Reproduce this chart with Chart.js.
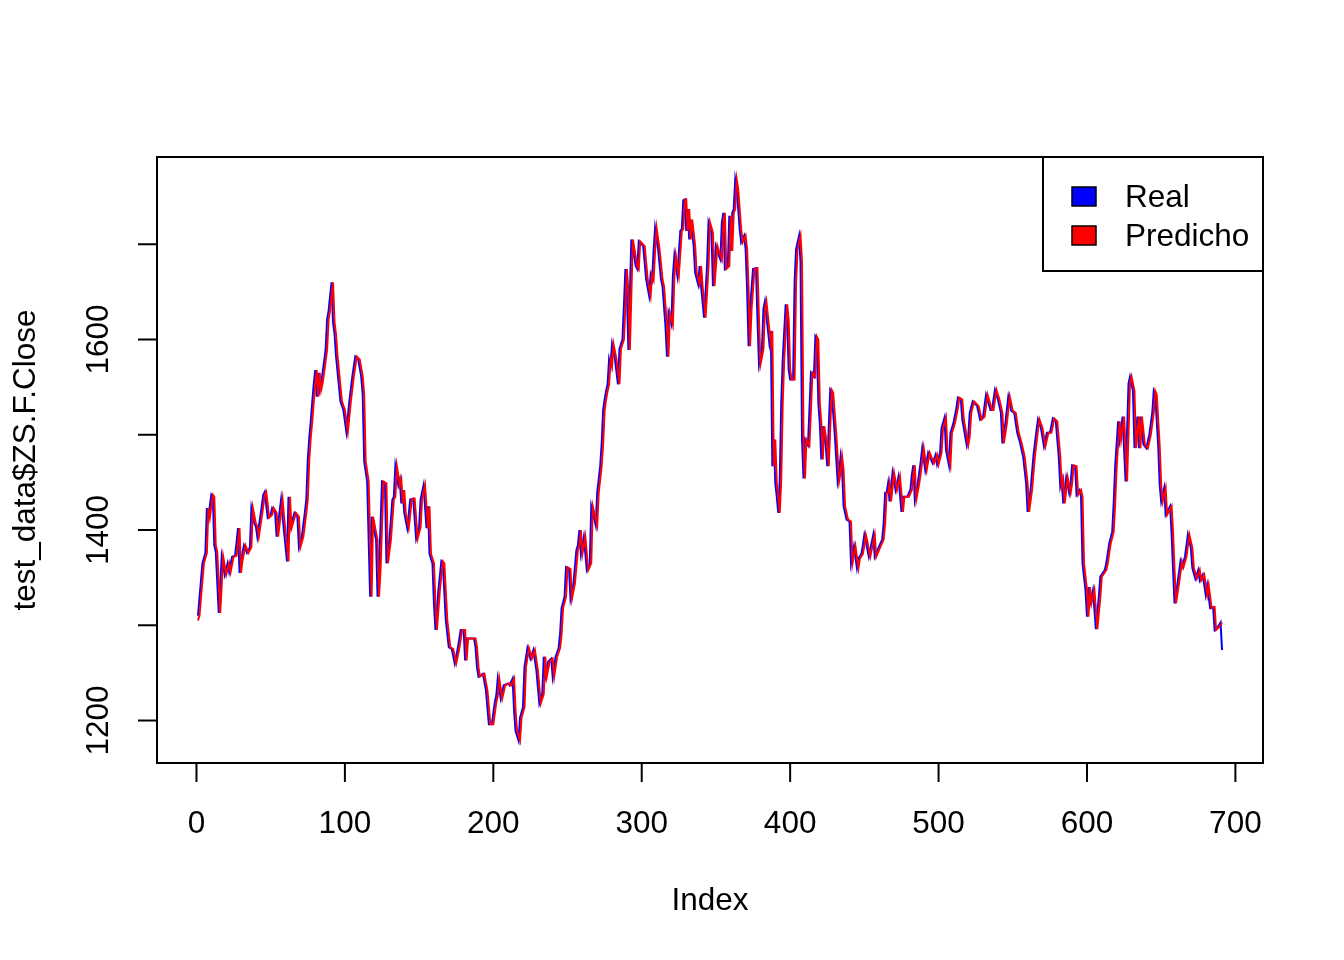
<!DOCTYPE html>
<html>
<head>
<meta charset="utf-8">
<script src="https://cdn.jsdelivr.net/npm/chart.js@4.4.0/dist/chart.umd.min.js"></script>
<style>
  html, body { margin: 0; padding: 0; background: #fff; }
  #wrap { width: 1344px; height: 960px; }
</style>
</head>
<body>
<div id="wrap"><canvas id="chart" width="1344" height="960"></canvas></div>
<script>
// [index, close]
const real = [[1,1310],[4,1365],[6,1376],[7,1423],[8,1413],[10,1437],[11,1435],[12,1384],[13,1377],[15,1313],[17,1372],[19,1353],[21,1365],[22,1356],[24,1372],[26,1373],[27,1387],[28,1402],[29,1355],[30,1368],[32,1384],[34,1376],[36,1382],[37,1423],[39,1407],[40,1404],[41,1393],[43,1414],[44,1425],[45,1437],[46,1440],[48,1413],[50,1416],[51,1423],[53,1418],[54,1393],[57,1432],[58,1414],[61,1367],[62,1435],[63,1402],[66,1418],[68,1414],[69,1382],[71,1393],[73,1418],[74,1432],[75,1474],[76,1497],[77,1514],[78,1534],[79,1553],[80,1568],[81,1540],[82,1565],[83,1547],[84,1554],[86,1577],[87,1589],[88,1621],[89,1630],[91,1660],[92,1618],[93,1606],[94,1583],[97,1535],[99,1526],[101,1503],[103,1535],[105,1561],[107,1582],[109,1579],[111,1561],[112,1542],[113,1472],[115,1451],[117,1330],[118,1414],[120,1397],[121,1390],[122,1330],[123,1358],[125,1451],[127,1449],[128,1365],[130,1390],[132,1432],[133,1435],[134,1467],[136,1447],[137,1453],[138,1428],[139,1442],[140,1418],[142,1402],[143,1416],[144,1432],[146,1433],[148,1391],[150,1403],[151,1432],[153,1447],[155,1402],[156,1425],[157,1375],[159,1365],[160,1323],[161,1295],[163,1337],[165,1367],[166,1365],[168,1305],[170,1277],[172,1275],[174,1260],[176,1275],[178,1295],[180,1295],[181,1263],[182,1286],[187,1286],[188,1277],[189,1256],[190,1246],[193,1249],[195,1232],[197,1196],[199,1196],[201,1219],[202,1226],[203,1244],[205,1223],[207,1237],[210,1239],[211,1237],[213,1244],[214,1210],[215,1189],[217,1179],[218,1203],[220,1214],[221,1256],[223,1276],[225,1265],[227,1274],[229,1253],[231,1218],[233,1228],[234,1267],[235,1246],[237,1262],[239,1265],[240,1246],[242,1267],[244,1276],[245,1291],[246,1318],[248,1330],[249,1361],[251,1359],[252,1328],[254,1344],[256,1379],[257,1384],[258,1400],[259,1375],[261,1393],[263,1358],[265,1365],[266,1425],[269,1405],[270,1439],[272,1467],[273,1490],[274,1526],[275,1537],[276,1546],[277,1553],[278,1579],[279,1572],[280,1595],[282,1579],[284,1553],[285,1590],[287,1600],[288,1635],[289,1674],[290,1651],[291,1589],[293,1705],[296,1677],[297,1674],[298,1703],[301,1698],[303,1663],[305,1646],[306,1668],[307,1663],[308,1693],[309,1717],[311,1695],[313,1663],[314,1656],[316,1614],[317,1582],[318,1628],[320,1616],[321,1667],[322,1688],[323,1677],[324,1667],[326,1714],[327,1716],[328,1746],[329,1747],[330,1714],[331,1737],[332,1705],[333,1726],[335,1698],[336,1670],[338,1658],[339,1677],[340,1656],[342,1623],[343,1649],[344,1677],[345,1723],[347,1712],[348,1656],[349,1677],[350,1698],[352,1688],[353,1684],[354,1723],[355,1733],[356,1674],[358,1677],[359,1730],[360,1693],[361,1733],[362,1737],[363,1768],[364,1758],[366,1716],[367,1702],[369,1709],[370,1695],[371,1653],[372,1593],[373,1632],[375,1674],[377,1675],[378,1621],[379,1574],[381,1590],[382,1632],[383,1640],[385,1610],[386,1596],[387,1609],[388,1467],[389,1495],[390,1449],[391,1435],[392,1418],[393,1453],[394,1533],[395,1579],[397,1637],[398,1621],[399,1568],[400,1558],[402,1558],[403,1660],[404,1695],[406,1709],[407,1681],[408,1495],[409,1454],[410,1495],[412,1489],[413,1526],[414,1565],[416,1561],[417,1603],[418,1600],[419,1533],[420,1512],[421,1474],[422,1509],[424,1488],[425,1467],[427,1547],[428,1544],[430,1502],[431,1477],[432,1451],[433,1460],[434,1477],[435,1463],[436,1425],[438,1411],[440,1409],[441,1365],[443,1383],[445,1360],[446,1370],[448,1375],[449,1384],[450,1395],[451,1388],[453,1372],[456,1395],[457,1372],[460,1383],[462,1390],[463,1407],[464,1439],[465,1439],[466,1449],[467,1430],[469,1460],[471,1442],[473,1456],[475,1419],[476,1435],[479,1435],[481,1442],[482,1458],[483,1468],[484,1432],[486,1449],[488,1472],[489,1486],[491,1463],[493,1481],[496,1470],[498,1479],[499,1469],[501,1481],[502,1507],[504,1518],[505,1484],[507,1468],[508,1502],[510,1512],[512,1528],[513,1539],[515,1537],[516,1516],[519,1489],[520,1498],[521,1523],[523,1535],[526,1530],[528,1516],[530,1519],[532,1542],[535,1526],[536,1526],[538,1547],[540,1537],[542,1523],[543,1491],[545,1512],[547,1540],[549,1525],[551,1523],[553,1502],[555,1491],[556,1484],[557,1477],[559,1449],[560,1419],[562,1442],[564,1479],[566,1505],[567,1516],[569,1507],[571,1488],[573,1502],[575,1502],[577,1517],[579,1514],[580,1495],[581,1477],[582,1446],[583,1453],[584,1428],[586,1455],[588,1439],[589,1449],[590,1468],[592,1467],[593,1437],[595,1442],[596,1435],[597,1365],[599,1337],[600,1309],[601,1340],[602,1323],[604,1337],[606,1296],[608,1330],[609,1351],[612,1358],[613,1365],[615,1386],[617,1398],[618,1428],[619,1467],[621,1514],[622,1495],[624,1519],[626,1451],[628,1554],[629,1561],[631,1546],[632,1486],[634,1519],[635,1486],[636,1519],[638,1490],[640,1486],[642,1500],[644,1523],[645,1546],[646,1542],[648,1488],[649,1447],[650,1430],[652,1444],[653,1416],[656,1425],[657,1397],[658,1358],[659,1323],[661,1344],[663,1367],[664,1361],[666,1372],[668,1395],[670,1381],[671,1360],[673,1349],[675,1358],[676,1347],[678,1353],[680,1332],[681,1342],[683,1318],[685,1319],[686,1295],[688,1298],[690,1303],[691,1274]];

const predicho = [[1,1305],[2,1310],[5,1365],[7,1376],[8,1423],[9,1413],[11,1437],[12,1435],[13,1384],[14,1377],[16,1313],[18,1372],[20,1353],[22,1365],[23,1356],[25,1372],[27,1373],[28,1387],[29,1402],[30,1355],[31,1368],[33,1384],[35,1376],[37,1382],[38,1423],[40,1407],[41,1404],[42,1393],[44,1414],[45,1425],[46,1437],[47,1440],[49,1413],[51,1416],[52,1423],[54,1418],[55,1393],[58,1432],[59,1414],[62,1367],[63,1435],[64,1402],[67,1418],[69,1414],[70,1382],[72,1393],[74,1418],[75,1432],[76,1474],[77,1497],[78,1514],[79,1534],[80,1553],[81,1568],[82,1540],[83,1565],[84,1547],[85,1554],[87,1577],[88,1589],[89,1621],[90,1630],[92,1660],[93,1618],[94,1606],[95,1583],[98,1535],[100,1526],[102,1503],[104,1535],[106,1561],[108,1582],[110,1579],[112,1561],[113,1542],[114,1472],[116,1451],[118,1330],[119,1414],[121,1397],[122,1390],[123,1330],[124,1358],[126,1451],[128,1449],[129,1365],[131,1390],[133,1432],[134,1435],[135,1467],[137,1447],[138,1453],[139,1428],[140,1442],[141,1418],[143,1402],[144,1416],[145,1432],[147,1433],[149,1391],[151,1403],[152,1432],[154,1447],[156,1402],[157,1425],[158,1375],[160,1365],[161,1323],[162,1295],[164,1337],[166,1367],[167,1365],[169,1305],[171,1277],[173,1275],[175,1260],[177,1275],[179,1295],[181,1295],[182,1263],[183,1286],[188,1286],[189,1277],[190,1256],[191,1246],[194,1249],[196,1232],[198,1196],[200,1196],[202,1219],[203,1226],[204,1244],[206,1223],[208,1237],[211,1239],[212,1237],[214,1244],[215,1210],[216,1189],[218,1179],[219,1203],[221,1214],[222,1256],[224,1276],[226,1265],[228,1274],[230,1253],[232,1218],[234,1228],[235,1267],[236,1246],[238,1262],[240,1265],[241,1246],[243,1267],[245,1276],[246,1291],[247,1318],[249,1330],[250,1361],[252,1359],[253,1328],[255,1344],[257,1379],[258,1384],[259,1400],[260,1375],[262,1393],[264,1358],[266,1365],[267,1425],[270,1405],[271,1439],[273,1467],[274,1490],[275,1526],[276,1537],[277,1546],[278,1553],[279,1579],[280,1572],[281,1595],[283,1579],[285,1553],[286,1590],[288,1600],[289,1635],[290,1674],[291,1651],[292,1589],[294,1705],[297,1677],[298,1674],[299,1703],[302,1698],[304,1663],[306,1646],[307,1668],[308,1663],[309,1693],[310,1717],[312,1695],[314,1663],[315,1656],[317,1614],[318,1582],[319,1628],[321,1616],[322,1667],[323,1688],[324,1677],[325,1667],[327,1714],[328,1716],[329,1746],[330,1747],[331,1714],[332,1737],[333,1705],[334,1726],[336,1698],[337,1670],[339,1658],[340,1677],[341,1656],[343,1623],[344,1649],[345,1677],[346,1723],[348,1712],[349,1656],[350,1677],[351,1698],[353,1688],[354,1684],[355,1723],[356,1733],[357,1674],[359,1677],[360,1730],[361,1693],[362,1733],[363,1737],[364,1768],[365,1758],[367,1716],[368,1702],[370,1709],[371,1695],[372,1653],[373,1593],[374,1632],[376,1674],[378,1675],[379,1621],[380,1574],[382,1590],[383,1632],[384,1640],[386,1610],[387,1596],[388,1609],[389,1467],[390,1495],[391,1449],[392,1435],[393,1418],[394,1453],[395,1533],[396,1579],[398,1637],[399,1621],[400,1568],[401,1558],[403,1558],[404,1660],[405,1695],[407,1709],[408,1681],[409,1495],[410,1454],[411,1495],[413,1489],[414,1526],[415,1565],[417,1561],[418,1603],[419,1600],[420,1533],[421,1512],[422,1474],[423,1509],[425,1488],[426,1467],[428,1547],[429,1544],[431,1502],[432,1477],[433,1451],[434,1460],[435,1477],[436,1463],[437,1425],[439,1411],[441,1409],[442,1365],[444,1383],[446,1360],[447,1370],[449,1375],[450,1384],[451,1395],[452,1388],[454,1372],[457,1395],[458,1372],[461,1383],[463,1390],[464,1407],[465,1439],[466,1439],[467,1449],[468,1430],[470,1460],[472,1442],[474,1456],[476,1419],[477,1435],[480,1435],[482,1442],[483,1458],[484,1468],[485,1432],[487,1449],[489,1472],[490,1486],[492,1463],[494,1481],[497,1470],[499,1479],[500,1469],[502,1481],[503,1507],[505,1518],[506,1484],[508,1468],[509,1502],[511,1512],[513,1528],[514,1539],[516,1537],[517,1516],[520,1489],[521,1498],[522,1523],[524,1535],[527,1530],[529,1516],[531,1519],[533,1542],[536,1526],[537,1526],[539,1547],[541,1537],[543,1523],[544,1491],[546,1512],[548,1540],[550,1525],[552,1523],[554,1502],[556,1491],[557,1484],[558,1477],[560,1449],[561,1419],[563,1442],[565,1479],[567,1505],[568,1516],[570,1507],[572,1488],[574,1502],[576,1502],[578,1517],[580,1514],[581,1495],[582,1477],[583,1446],[584,1453],[585,1428],[587,1455],[589,1439],[590,1449],[591,1468],[593,1467],[594,1437],[596,1442],[597,1435],[598,1365],[600,1337],[601,1309],[602,1340],[603,1323],[605,1337],[607,1296],[609,1330],[610,1351],[613,1358],[614,1365],[616,1386],[618,1398],[619,1428],[620,1467],[622,1514],[623,1495],[625,1519],[627,1451],[629,1554],[630,1561],[632,1546],[633,1486],[635,1519],[636,1486],[637,1519],[639,1490],[641,1486],[643,1500],[645,1523],[646,1546],[647,1542],[649,1488],[650,1447],[651,1430],[653,1444],[654,1416],[657,1425],[658,1397],[659,1358],[660,1323],[662,1344],[664,1367],[665,1361],[667,1372],[669,1395],[671,1381],[672,1360],[674,1349],[676,1358],[677,1347],[679,1353],[681,1332],[682,1342],[684,1318],[686,1319],[687,1295],[689,1298],[691,1303]];

const xTicks = [0, 100, 200, 300, 400, 500, 600, 700];
const yTicks = [1200, 1300, 1400, 1500, 1600, 1700];
const yLabels = [1200, 1400, 1600];
const legendItems = [['Real', '#0000ff'], ['Predicho', '#ff0000']];

const FONT = '31.5px "Liberation Sans", Arial, sans-serif';

// R-style axes, box, titles and legend
const baseGraphics = {
  id: 'baseGraphics',
  afterDraw(chart) {
    const { ctx, chartArea: a, scales } = chart;
    ctx.save();
    ctx.strokeStyle = '#000';
    ctx.fillStyle = '#000';
    ctx.lineWidth = 2;
    ctx.strokeRect(a.left, a.top, a.right - a.left, a.bottom - a.top);
    ctx.font = FONT;

    ctx.textAlign = 'center';
    ctx.textBaseline = 'middle';
    xTicks.forEach(v => {
      const px = scales.x.getPixelForValue(v);
      ctx.beginPath(); ctx.moveTo(px, a.bottom); ctx.lineTo(px, a.bottom + 19); ctx.stroke();
      ctx.fillText(String(v), px, a.bottom + 61);
    });
    yTicks.forEach(v => {
      const py = scales.y.getPixelForValue(v);
      ctx.beginPath(); ctx.moveTo(a.left - 19, py); ctx.lineTo(a.left, py); ctx.stroke();
      if (yLabels.includes(v)) {
        ctx.save();
        ctx.translate(a.left - 58, py);
        ctx.rotate(-Math.PI / 2);
        ctx.fillText(String(v), 0, 0);
        ctx.restore();
      }
    });

    ctx.fillText('Index', (a.left + a.right) / 2, 901);
    ctx.save();
    ctx.translate(26, (a.top + a.bottom) / 2);
    ctx.rotate(-Math.PI / 2);
    ctx.fillText('test_data$ZS.F.Close', 0, 0);
    ctx.restore();

    // legend
    ctx.strokeRect(1043, a.top, a.right - 1043, 114);
    ctx.textAlign = 'left';
    legendItems.forEach(([label, col], i) => {
      const cy = 196 + i * 39;
      ctx.fillStyle = col;
      ctx.fillRect(1072, cy - 9, 24, 19);
      ctx.lineWidth = 1.5;
      ctx.strokeRect(1072, cy - 9, 24, 19);
      ctx.fillStyle = '#000';
      ctx.fillText(label, 1125, cy + 2);
    });
    ctx.restore();
  }
};

new Chart(document.getElementById('chart'), {
  type: 'line',
  data: {
    datasets: [
      { label: 'Real', data: real.map(([x, y]) => ({ x, y })), borderColor: '#0000ff', borderWidth: 2, order: 2 },
      { label: 'Predicho', data: predicho.map(([x, y]) => ({ x, y })), borderColor: '#ff0000', borderWidth: 2, order: 1 }
    ]
  },
  options: {
    responsive: false,
    animation: false,
    devicePixelRatio: 1,
    layout: { padding: { left: 157, right: 81, top: 157, bottom: 197 } },
    elements: { point: { radius: 0 }, line: { tension: 0 } },
    plugins: { legend: { display: false }, tooltip: { enabled: false } },
    scales: {
      x: { type: 'linear', min: -26.6, max: 718.6, display: false },
      y: { type: 'linear', min: 1155.4, max: 1791.6, display: false }
    }
  },
  plugins: [baseGraphics]
});
</script>
</body>
</html>
